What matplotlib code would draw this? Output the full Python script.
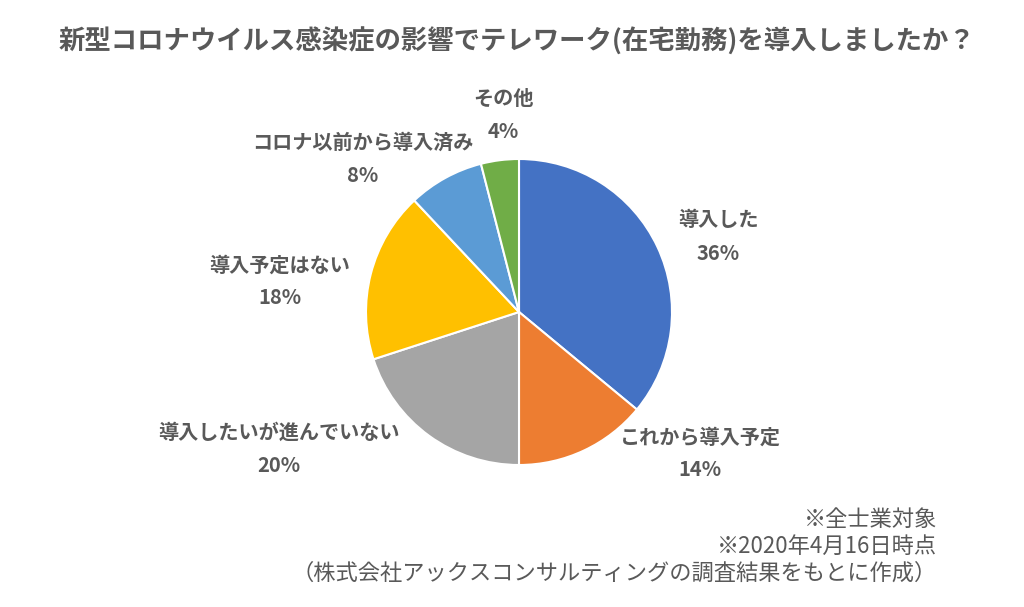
import matplotlib
matplotlib.use("Agg")
import matplotlib.pyplot as plt

plt.rcParams['font.family'] = ['Noto Sans CJK JP', 'DejaVu Sans']

title = "新型コロナウイルス感染症の影響でテレワーク(在宅勤務)を導入しましたか？"
categories = ["導入した", "これから導入予定", "導入したいが進んでいない",
              "導入予定はない", "コロナ以前から導入済み", "その他"]
shares = [36, 14, 20, 18, 8, 4]
colors = ["#4472C4", "#ED7D31", "#A5A5A5", "#FFC000", "#5B9BD5", "#70AD47"]
notes = ["※全士業対象", "※2020年4月16日時点",
         "（株式会社アックスコンサルティングの調査結果をもとに作成）"]

# label centres in pixels (x, y of first line), Excel-ish placement
label_pos = [(718, 220), (700, 437), (279, 432), (280, 265), (363, 142), (503, 98)]

W, H = 1024, 607
fig = plt.figure(figsize=(W / 100, H / 100), dpi=100)
ax = fig.add_axes([0, 0, 1, 1])

ax.pie(shares, colors=colors, startangle=90, counterclock=False,
       center=(519, H - 312), radius=153,
       wedgeprops={'edgecolor': 'white', 'linewidth': 1.5})

# pie() resets the limits, so set the pixel frame afterwards
ax.set_xlim(0, W)
ax.set_ylim(0, H)
ax.set_aspect('equal')
ax.axis('off')

grey = '#595959'
for cat, val, (x, y) in zip(categories, shares, label_pos):
    ax.text(x, H - y, cat, ha='center', va='center', fontsize=14.5,
            fontweight='bold', color=grey)
    ax.text(x, H - y - 33, f"{val}%", ha='center', va='center', fontsize=14.5,
            fontweight='bold', color=grey)

ax.text(517, H - 42, title, ha='center', va='center', fontsize=19,
        fontweight='bold', color=grey)

for i, line in enumerate(notes):
    ax.text(937, H - 519 - 27 * i, line, ha='right', va='center',
            fontsize=16, color=grey)

fig.savefig('out.png', dpi=100)
